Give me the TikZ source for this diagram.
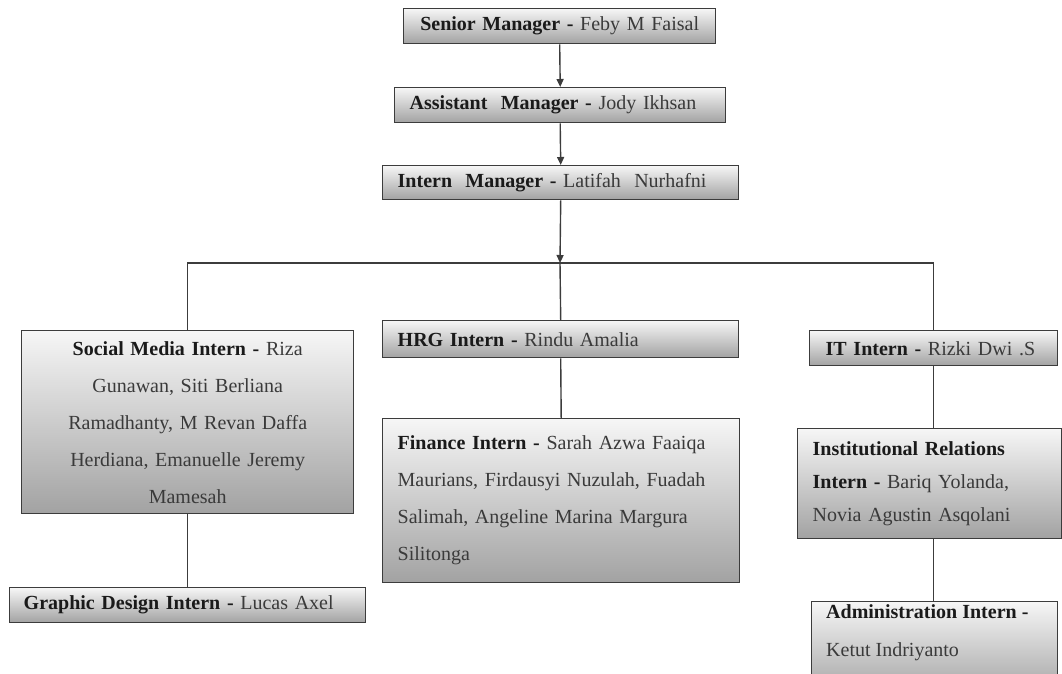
\documentclass[tikz,border=0pt]{standalone}
\usepackage{fontspec}
\setmainfont{Liberation Serif}
\usetikzlibrary{arrows.meta}
\definecolor{edge}{HTML}{3C3C3C}
\definecolor{boldtxt}{HTML}{1A1A1A}
\definecolor{nametxt}{HTML}{3A3A3A}
\definecolor{gtop}{HTML}{F6F6F6}
\definecolor{gbot}{HTML}{A2A2A2}
\newcommand{\rl}[1]{\textbf{\color{boldtxt}#1}}
\tikzset{
  box/.style={draw=edge, line width=1.4pt, top color=gtop, bottom color=gbot,
    anchor=north west, inner xsep=15pt, inner ysep=0pt, text=nametxt,
    font=\fontsize{20}{37}\selectfont, align=left},
  conn/.style={draw=edge, line width=1.4pt},
  arr/.style={conn, -{Triangle[length=8pt,width=7pt]}}
}
\begin{document}
\begin{tikzpicture}[x=1pt,y=-1pt]
\useasboundingbox (0,0) rectangle (1062,673);
\node[box, align=center, text width=282pt, minimum height=35pt] (sen) at (403,8) {\rl{Senior Manager -} Feby M Faisal};
\node[box, text width=301pt, minimum height=35pt] (ast) at (394,87) {\rl{Assistant~ Manager -} Jody Ikhsan};
\node[box, text width=326pt, minimum height=34pt] (im) at (382,165) {\rl{Intern~ Manager -} Latifah~ Nurhafni};
\coordinate (hub) at (560,263);
\node[box, align=center, text width=302pt, minimum height=183pt] (sm) at (21,330) {\rl{Social Media Intern -} Riza\\Gunawan, Siti Berliana\\Ramadhanty, M Revan Daffa\\Herdiana, Emanuelle Jeremy\\Mamesah};
\node[box, inner xsep=14pt, text width=328pt, minimum height=35pt] (gd) at (9,587) {\rl{Graphic Design Intern -} Lucas Axel};
\node[box, text width=326pt, minimum height=37pt] (hrg) at (382,320) {\rl{HRG Intern -} Rindu Amalia};
\node[box, text width=327pt, minimum height=164pt] (fin) at (382,418) {\rl{Finance Intern -} Sarah Azwa Faaiqa\\Maurians, Firdausyi Nuzulah, Fuadah\\Salimah, Angeline Marina Margura\\Silitonga};
\node[box, inner xsep=16pt, text width=216pt, minimum height=35pt] (it) at (809,330) {\rl{IT Intern -} Rizki Dwi .S};
\node[box, text width=234pt, minimum height=110pt, font=\fontsize{20}{33}\selectfont] (inst) at (797,428) {\rl{Institutional Relations}\\\rl{Intern -} Bariq Yolanda,\\Novia Agustin Asqolani};
\node[box, text width=216pt, minimum height=95pt] (adm) at (811,601) {};
\node[anchor=north west, inner sep=0pt, align=left, text=nametxt, font=\fontsize{20}{38}\selectfont] (admt) at (826,604) {\rl{Administration Intern -}\\Ketut Indriyanto};
\draw[arr] (sen.south) -- (ast.north);
\draw[arr] (ast.south) -- (im.north);
\draw[arr] (im.south) -- (hub);
\draw[conn] (sm.north) |- (hub) -| (it.north);
\draw[conn] (hub) -- (hrg.north);
\draw[conn] (sm.south) -- (gd.north);
\draw[conn] (hrg.south) -- (fin.north);
\draw[conn] (it.south) -- (it.south |- inst.north);
\draw[conn] (it.south |- inst.south) -- (it.south |- adm.north);
\end{tikzpicture}
\end{document}
